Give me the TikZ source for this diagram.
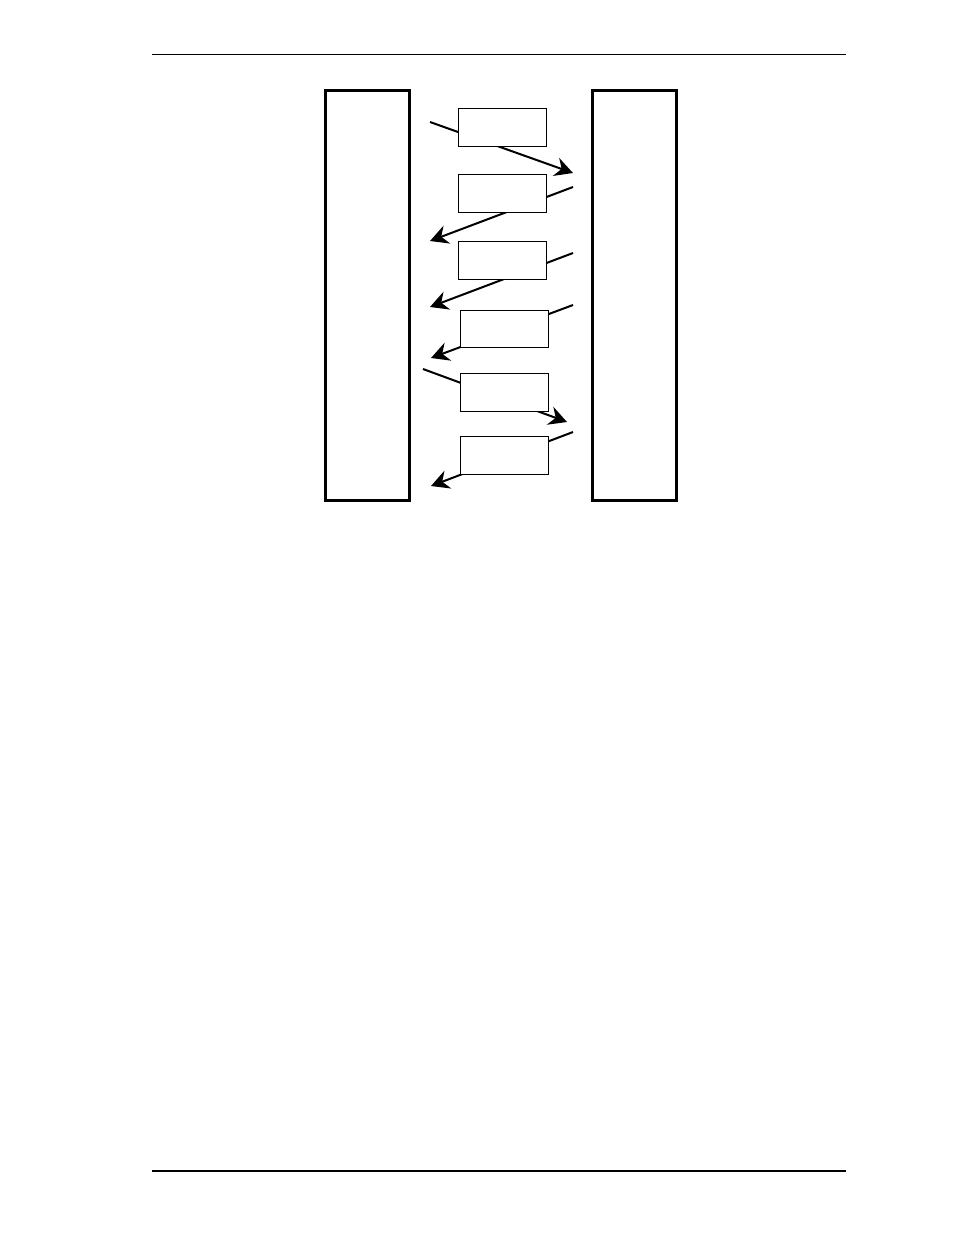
\documentclass[tikz,border=0pt]{standalone}
\usetikzlibrary{arrows.meta}
\begin{document}
\begin{tikzpicture}[x=1pt,y=-1pt,
  bigbox/.style={draw,line width=3pt,outer sep=0pt,minimum width=84pt,minimum height=410pt,inner sep=0pt,anchor=north west},
  msgbox/.style={draw,line width=1pt,outer sep=0pt,fill=white,minimum width=88pt,minimum height=37.5pt,inner sep=0pt,anchor=north west},
  msg/.style={line width=2pt,-{Stealth[length=18pt,width=19pt,inset=6pt]}},
  rule/.style={line width=1pt}]
\useasboundingbox (0,0) rectangle (954,1235);
% page rules
\coordinate (t1) at (152,54.5); \coordinate (t2) at (846,54.5);
\coordinate (b1) at (152,1171); \coordinate (b2) at (846,1171);
\draw[rule] (t1) -- (t2);
\draw[line width=2pt] (b1) -- (b2);
% lanes
\node[bigbox] (L) at (325,90) {};
\node[bigbox] (R) at (592,90) {};
% message end points
\coordinate (a1s) at (430,122); \coordinate (a1e) at (573,173);
\coordinate (a2s) at (573,187); \coordinate (a2e) at (430,241);
\coordinate (a3s) at (573,253); \coordinate (a3e) at (430,307);
\coordinate (a4s) at (573,305); \coordinate (a4e) at (431,358);
\coordinate (a5s) at (423,369); \coordinate (a5e) at (567,422);
\coordinate (a6s) at (573,432); \coordinate (a6e) at (431,486);
\draw[msg] (a1s) -- (a1e);
\draw[msg] (a2s) -- (a2e);
\draw[msg] (a3s) -- (a3e);
\draw[msg] (a4s) -- (a4e);
\draw[msg] (a5s) -- (a5e);
\draw[msg] (a6s) -- (a6e);
% message boxes
\node[msgbox] (m1) at (458.5,108.5) {};
\node[msgbox] (m2) at (458.5,174.5) {};
\node[msgbox] (m3) at (458.5,241.5) {};
\node[msgbox] (m4) at (460.5,310) {};
\node[msgbox] (m5) at (460.5,373.5) {};
\node[msgbox] (m6) at (460.5,436.5) {};
\end{tikzpicture}
\end{document}
